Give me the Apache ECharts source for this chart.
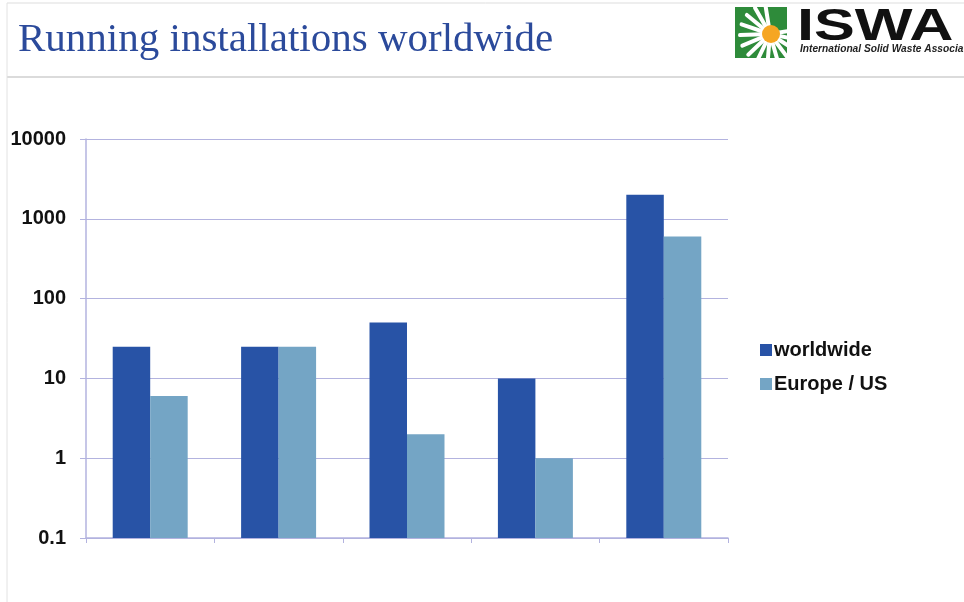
<!DOCTYPE html>
<html><head><meta charset="utf-8">
<script src="https://cdn.jsdelivr.net/npm/echarts@6/dist/echarts.min.js"></script>
<style>html,body{margin:0;padding:0;background:#fff}#c{width:964px;height:602px}</style>
</head><body><div id="c"></div>
<script>
const categories = ['1', '2', '3', '4', '5'];
const worldwide = [25, 25, 50, 10, 2000];
const europeUS = [6, 25, 2, 1, 600];
const yTicks = [0.1, 1, 10, 100, 1000, 10000];
const seriesNames = ['worldwide', 'Europe / US'];
const colors = ['#2853a6', '#74a5c5'];

const chart = echarts.init(document.getElementById('c'), null, {renderer: 'canvas'});

// daisy petals for the logo
const petals = [];
for (let i = 0; i < 14; i++) {
  const a = Math.PI * 0.55 + i * (Math.PI * 1.5 / 13);
  petals.push({
    type: 'line', silent: true,
    shape: {x1: 770, y1: 34, x2: 770 + Math.cos(a) * 30, y2: 34 - Math.sin(a) * 30},
    style: {stroke: '#ffffff', lineWidth: 4, lineCap: 'round'}
  });
}

chart.setOption({
  animation: false,
  backgroundColor: '#ffffff',
  color: colors,
  title: {
    text: 'Running installations worldwide',
    left: 13, top: 15,
    textStyle: {fontFamily: 'Liberation Serif', fontWeight: 'normal', fontSize: 41, color: '#2b4a9b'}
  },
  graphic: [
    {type: 'line', silent: true, shape: {x1: 7, y1: 3, x2: 964, y2: 3}, style: {stroke: '#dddddd', lineWidth: 1}},
    {type: 'line', silent: true, shape: {x1: 7, y1: 77, x2: 964, y2: 77}, style: {stroke: '#cfcfcf', lineWidth: 1.5}},
    {type: 'line', silent: true, shape: {x1: 7, y1: 3, x2: 7, y2: 602}, style: {stroke: '#e2e2e2', lineWidth: 1}},
    {type: 'rect', silent: true, shape: {x: 735, y: 7, width: 52, height: 51}, style: {fill: '#2e8b3a'}},
    {type: 'group', silent: true, clipPath: {type: 'rect', shape: {x: 735, y: 7, width: 52, height: 51}}, children: petals},
    {type: 'circle', silent: true, shape: {cx: 771, cy: 34, r: 9}, style: {fill: '#f6a623'}},
    {type: 'text', silent: true, x: 797, y: 5, scaleX: 1.36, style: {text: 'ISWA', fontFamily: 'Liberation Sans', fontWeight: 'bold', fontSize: 45, fill: '#111111'}},
    {type: 'text', silent: true, x: 800, y: 44, scaleX: 0.97, style: {text: 'International Solid Waste Associati', fontFamily: 'Liberation Sans', fontStyle: 'italic', fontWeight: 'bold', fontSize: 10.5, fill: '#222222'}}
  ],
  legend: {
    orient: 'vertical',
    left: 755, top: 334,
    itemWidth: 12, itemHeight: 12, itemGap: 12,
    icon: 'rect',
    data: seriesNames,
    textStyle: {fontFamily: 'Liberation Sans', fontWeight: 'bold', fontSize: 20, lineHeight: 22, color: '#111111', padding: [0, 0, 0, -3]}
  },
  grid: {left: 86, right: 236, top: 139, bottom: 64, containLabel: false},
  xAxis: {
    type: 'category',
    data: categories,
    axisLine: {lineStyle: {color: '#b3b3df', width: 1.5}},
    axisTick: {show: true, length: 5, lineStyle: {color: '#b3b3df'}},
    axisLabel: {show: false},
    splitLine: {show: false}
  },
  yAxis: {
    type: 'log',
    logBase: 10,
    min: yTicks[0],
    max: yTicks[yTicks.length - 1],
    startValue: yTicks[0],
    axisLine: {show: true, lineStyle: {color: '#b3b3df', width: 1.5}},
    axisTick: {show: true, length: 6, lineStyle: {color: '#b3b3df'}},
    splitLine: {show: true, lineStyle: {color: '#b3b3df', width: 1.2}},
    minorTick: {show: false},
    axisLabel: {
      margin: 20,
      fontFamily: 'Liberation Sans', fontWeight: 'bold', fontSize: 20, color: '#111111',
      formatter: v => String(v)
    }
  },
  series: [
    {name: seriesNames[0], type: 'bar', data: worldwide, barGap: '0%', barCategoryGap: '41.6%', itemStyle: {color: colors[0]}},
    {name: seriesNames[1], type: 'bar', data: europeUS, itemStyle: {color: colors[1]}}
  ]
});
</script>
</body></html>
